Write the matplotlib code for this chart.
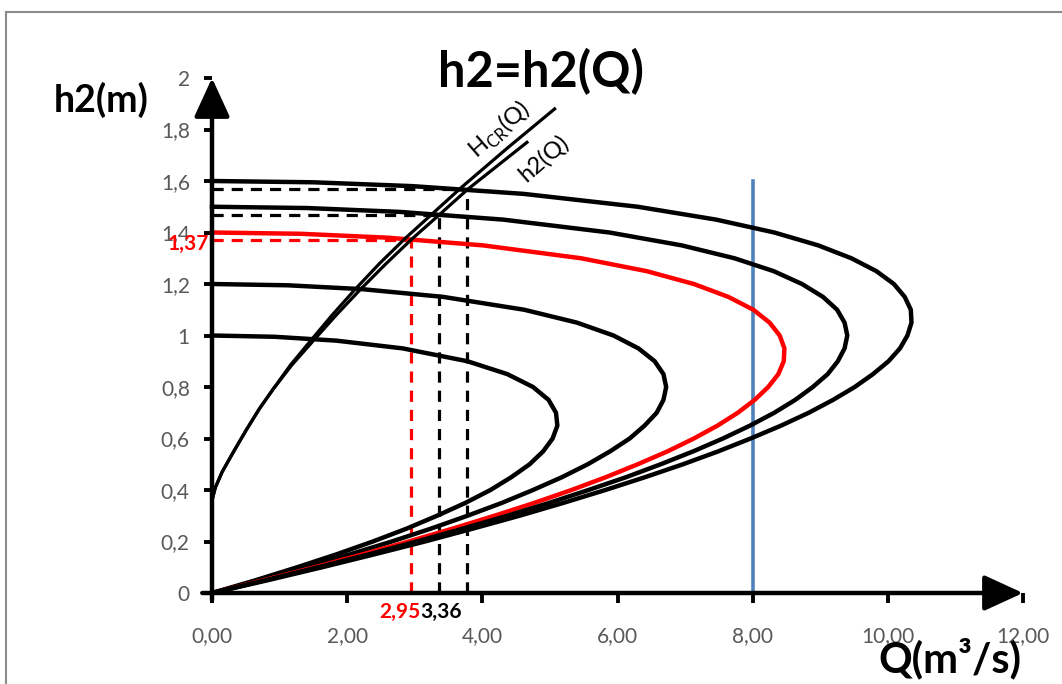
import numpy as np
import matplotlib

matplotlib.use('Agg')
import matplotlib.pyplot as plt
from matplotlib.lines import Line2D
from matplotlib.ticker import FuncFormatter

plt.rcParams['font.family'] = ['Lato', 'DejaVu Sans']
plt.rcParams['mathtext.fontset'] = 'custom'
plt.rcParams['mathtext.rm'] = 'Lato'

# h2(Q) family, one curve per energy level
h_e10 = [1.00, 0.995, 0.98, 0.95, 0.90, 0.85, 0.80, 0.75, 0.70, 0.65, 0.60, 0.55, 0.50,
         0.45, 0.40, 0.35, 0.30, 0.25, 0.20, 0.15, 0.10, 0.05, 0.00]
q_e10 = [0.00, 0.93, 1.84, 2.82, 3.78, 4.37, 4.75, 4.98, 5.09, 5.11, 5.04, 4.90, 4.70,
         4.43, 4.12, 3.75, 3.33, 2.88, 2.38, 1.84, 1.26, 0.65, 0.00]

h_e12 = [1.20, 1.195, 1.18, 1.15, 1.10, 1.05, 1.00, 0.95, 0.90, 0.85, 0.80, 0.75, 0.70, 0.65,
         0.60, 0.55, 0.50, 0.45, 0.40, 0.35, 0.30, 0.25, 0.20, 0.15, 0.10, 0.05, 0.00]
q_e12 = [0.00, 1.12, 2.22, 3.42, 4.62, 5.40, 5.94, 6.31, 6.55, 6.68, 6.72, 6.68, 6.58, 6.40,
         6.18, 5.89, 5.56, 5.18, 4.75, 4.29, 3.78, 3.24, 2.66, 2.04, 1.39, 0.71, 0.00]

h_e14 = [1.40, 1.395, 1.38, 1.35, 1.30, 1.25, 1.20, 1.15, 1.10, 1.05, 1.00, 0.95, 0.90, 0.85,
         0.80, 0.75, 0.70, 0.65, 0.60, 0.55, 0.50, 0.45, 0.40, 0.35, 0.30, 0.25, 0.20, 0.15,
         0.10, 0.05, 0.00]
q_e14 = [0.00, 1.31, 2.59, 4.01, 5.46, 6.43, 7.13, 7.64, 8.01, 8.25, 8.40, 8.47, 8.46, 8.38,
         8.23, 8.03, 7.78, 7.48, 7.13, 6.74, 6.30, 5.83, 5.32, 4.77, 4.18, 3.56, 2.91, 2.23,
         1.52, 0.77, 0.00]

h_e15 = [1.50, 1.495, 1.48, 1.45, 1.40, 1.35, 1.30, 1.25, 1.20, 1.15, 1.10, 1.05, 1.00, 0.95,
         0.90, 0.85, 0.80, 0.75, 0.70, 0.65, 0.60, 0.55, 0.50, 0.45, 0.40, 0.35, 0.30, 0.25,
         0.20, 0.15, 0.10, 0.05, 0.00]
q_e15 = [0.00, 1.41, 2.78, 4.31, 5.88, 6.95, 7.73, 8.31, 8.73, 9.04, 9.25, 9.36, 9.40, 9.36,
         9.26, 9.11, 8.89, 8.63, 8.32, 7.96, 7.56, 7.12, 6.64, 6.13, 5.57, 4.99, 4.37, 3.71,
         3.03, 2.32, 1.57, 0.80, 0.00]

h_e16 = [1.60, 1.595, 1.58, 1.55, 1.50, 1.45, 1.40, 1.35, 1.30, 1.25, 1.20, 1.15, 1.10, 1.05,
         1.00, 0.95, 0.90, 0.85, 0.80, 0.75, 0.70, 0.65, 0.60, 0.55, 0.50, 0.45, 0.40, 0.35,
         0.30, 0.25, 0.20, 0.15, 0.10, 0.05, 0.00]
q_e16 = [0.00, 1.50, 2.97, 4.61, 6.30, 7.46, 8.32, 8.97, 9.46, 9.83, 10.09, 10.25, 10.34, 10.35,
         10.29, 10.18, 10.01, 9.78, 9.51, 9.19, 8.83, 8.42, 7.97, 7.49, 6.97, 6.41, 5.82, 5.20,
         4.55, 3.86, 3.15, 2.40, 1.63, 0.83, 0.00]

curve_colors = ['black', 'black', 'red', 'black', 'black']

# critical depth and h2(Q) lines
hcr_q = [0.00, 0.05, 0.15, 0.30, 0.50, 0.70, 0.90, 1.16, 1.46, 1.78, 2.12, 2.48, 2.87, 3.27,
         3.69, 4.38, 5.07]
hcr_h = [0.36, 0.41, 0.47, 0.54, 0.63, 0.715, 0.79, 0.885, 0.98, 1.08, 1.18, 1.28, 1.38,
         1.475, 1.575, 1.73, 1.88]
h2_q = [0.00, 0.05, 0.15, 0.30, 0.50, 0.70, 0.90, 1.18, 1.50, 1.84, 2.20, 2.56, 2.95, 3.36,
        3.78, 4.66]
h2_h = [0.36, 0.41, 0.47, 0.54, 0.63, 0.715, 0.79, 0.885, 0.98, 1.08, 1.18, 1.275, 1.373,
        1.468, 1.567, 1.75]

# intersections marked with dashed guides
dash_q = [2.95, 3.36, 3.78]
dash_h = [1.37, 1.468, 1.567]
dash_colors = ['red', 'black', 'black']

# design discharge
q_design = 8.0
q_design_top = 1.6

x_ticks = [0, 2, 4, 6, 8, 10, 12]
y_ticks = [0, 0.2, 0.4, 0.6, 0.8, 1.0, 1.2, 1.4, 1.6, 1.8, 2.0]

W, H = 1062, 684
fig = plt.figure(figsize=(W / 100, H / 100), dpi=100)
ax = fig.add_axes([212 / W, 91 / H, 811 / W, 515 / H])
ax.set_xlim(0, 12)
ax.set_ylim(0, 2)
for s in ax.spines.values():
    s.set_visible(False)

# dashed guides
for q, h, c in zip(dash_q, dash_h, dash_colors):
    ax.plot([0, q], [h, h], color=c, lw=2.3, dashes=(3.5, 2.5), clip_on=False)
    ax.plot([q, q], [0, h], color=c, lw=2.3, dashes=(3.5, 2.5), clip_on=False)

ax.plot([q_design, q_design], [0, q_design_top], color='#4F81BD', lw=2.6)

for q, h, c in zip([q_e10, q_e12, q_e14, q_e15, q_e16],
                   [h_e10, h_e12, h_e14, h_e15, h_e16], curve_colors):
    ax.plot(q, h, color=c, lw=3.2, clip_on=False, solid_joinstyle='round')

ax.plot(hcr_q, hcr_h, color='black', lw=2.3, clip_on=False, solid_joinstyle='round')
ax.plot(h2_q, h2_h, color='black', lw=2.3, clip_on=False, solid_joinstyle='round')

ax.text(4.25, 1.80, r'H$_{\mathrm{CR}}$(Q)', rotation=41, rotation_mode='anchor',
        ha='center', va='center', fontsize=17)
ax.text(4.90, 1.69, 'h2(Q)', rotation=41, rotation_mode='anchor',
        ha='center', va='center', fontsize=17)

# axes with arrows
arrow = dict(arrowstyle='-|>,head_length=1.2,head_width=0.55', mutation_scale=20,
             lw=3.2, color='black', shrinkA=0, shrinkB=0)
ax.annotate('', xy=(1, 0), xytext=(-0.012, 0), xycoords='axes fraction',
            textcoords='axes fraction', arrowprops=arrow)
ax.annotate('', xy=(0, 1), xytext=(0, -0.014), xycoords='axes fraction',
            textcoords='axes fraction', arrowprops=arrow)

ax.set_xticks(x_ticks)
ax.set_yticks(y_ticks)
ax.xaxis.set_major_formatter(FuncFormatter(lambda v, p: ('%.2f' % v).replace('.', ',')))
ax.yaxis.set_major_formatter(FuncFormatter(lambda v, p: ('%g' % v).replace('.', ',')))
ax.tick_params(axis='x', direction='out', length=7, width=2.8, pad=17, labelsize=15,
               labelcolor='#595959')
ax.tick_params(axis='y', direction='out', length=6, width=2.8, pad=10, labelsize=15,
               labelcolor='#595959')

# value labels of the guides
ax.text(-0.05, 1.355, ('%.2f' % dash_h[0]).replace('.', ','), color='red',
        fontsize=15, fontweight='bold', ha='right', va='center', clip_on=False)
ax.text(3.08, -0.075, ('%.2f' % dash_q[0]).replace('.', ','), color='red',
        fontsize=15, fontweight='bold', ha='right', va='center', clip_on=False)
ax.text(3.08, -0.075, ('%.2f' % dash_q[1]).replace('.', ','), color='black',
        fontsize=15, fontweight='bold', ha='left', va='center', clip_on=False)

fig.text(541 / W, 1 - 72 / H, 'h2=h2(Q)', fontsize=35, fontweight='bold',
         ha='center', va='center')
fig.text(101 / W, 1 - 100 / H, 'h2(m)', fontsize=27, fontweight='bold',
         ha='center', va='center')
fig.text(950 / W, 1 - 658 / H, 'Q(m³/s)', fontsize=30, fontweight='bold',
         ha='center', va='center')

# chart frame
fig.add_artist(Line2D([6 / W, 6 / W], [0, 1 - 12 / H], color='#8c8c8c', lw=1.5))
fig.add_artist(Line2D([6 / W, 1], [1 - 12 / H, 1 - 12 / H], color='#8c8c8c', lw=1.5))

fig.savefig('out.png', dpi=100)
